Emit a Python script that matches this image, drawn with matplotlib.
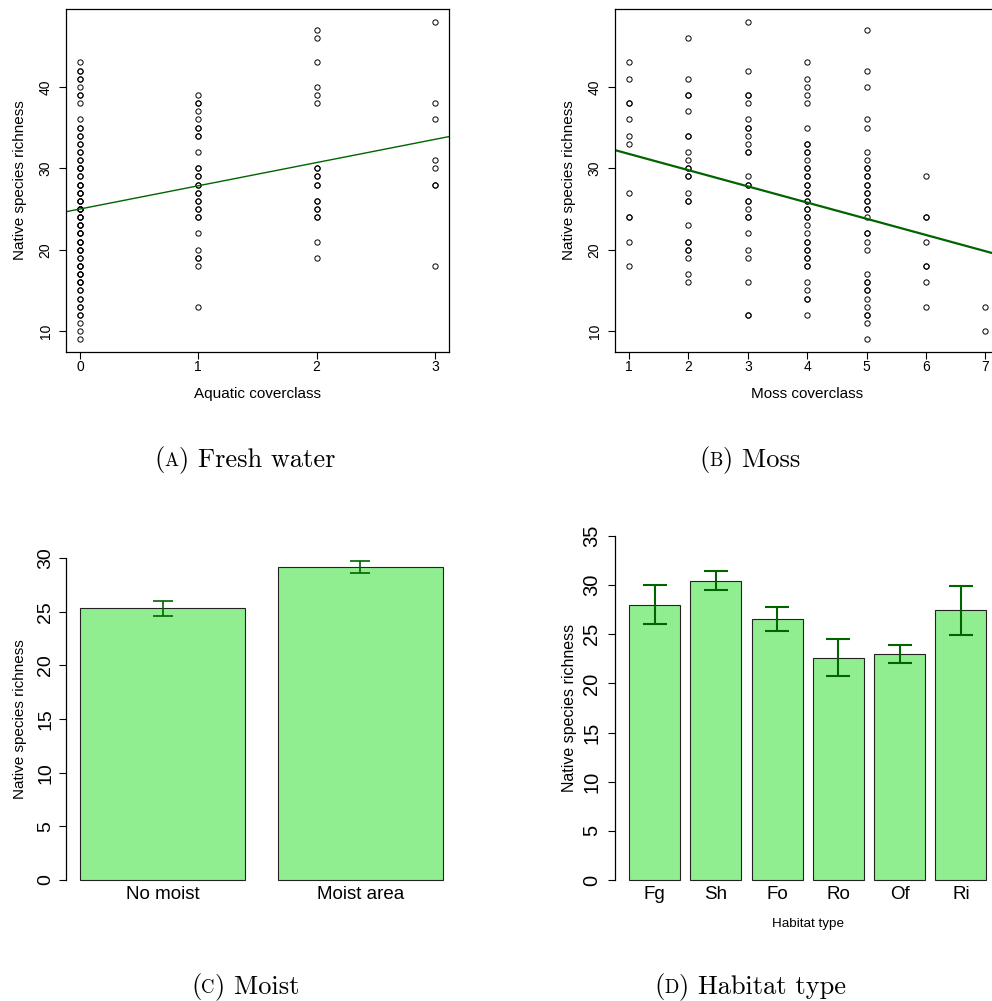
import matplotlib
matplotlib.use("Agg")
import matplotlib.pyplot as plt
import matplotlib.transforms as mtrans
import numpy as np

plt.rcParams["font.family"] = ["Liberation Sans", "DejaVu Sans"]

W, H = 992, 1001
GREEN = "#006400"
BAR = "#90EE90"
SERIF = ["cmr10", "DejaVu Serif"]

# (a) native species richness per plot, by aquatic coverclass (repeats = overplotted points)
aquatic_class = [0, 1, 2, 3]
aquatic_0 = [9, 10, 11, 12, 12, 13, 13, 14, 14, 15, 15, 16, 16, 16, 17, 17, 17,
             18, 18, 18, 19, 19, 20, 20, 20, 21, 21, 21, 22, 22, 22, 23, 23, 23,
             24, 24, 24, 25, 25, 25, 25, 26, 26, 26, 27, 27, 27, 28, 28, 28,
             29, 29, 30, 30, 30, 31, 31, 32, 32, 33, 33, 34, 34, 35, 35, 36,
             38, 39, 39, 40, 41, 41, 42, 42, 43]
aquatic_1 = [13, 18, 19, 19, 20, 22, 24, 24, 25, 25, 26, 26, 27, 27, 28, 28,
             29, 29, 30, 30, 32, 34, 34, 35, 35, 36, 37, 38, 38, 39]
aquatic_2 = [19, 21, 24, 24, 25, 25, 26, 26, 28, 28, 29, 29, 30, 30,
             38, 39, 40, 43, 46, 47]
aquatic_3 = [18, 28, 28, 30, 31, 36, 38, 48]
aquatic_fit = [25.0, 2.85]  # intercept, slope

# (b) by moss coverclass
moss_class = [1, 2, 3, 4, 5, 6, 7]
moss_1 = [18, 21, 24, 24, 27, 33, 34, 36, 38, 38, 41, 43]
moss_2 = [16, 17, 19, 20, 20, 21, 21, 23, 26, 26, 27, 29, 29, 30, 30, 31,
          32, 34, 34, 37, 39, 39, 41, 46]
moss_3 = [12, 12, 16, 19, 20, 22, 24, 24, 25, 26, 26, 28, 28, 29, 32, 32,
          33, 34, 35, 35, 36, 38, 39, 39, 42, 48]
moss_4 = [12, 14, 14, 15, 16, 18, 18, 19, 19, 20, 20, 21, 21, 22, 23, 24,
          24, 25, 25, 26, 26, 27, 27, 28, 28, 29, 29, 30, 30, 31, 32, 32,
          33, 33, 35, 38, 39, 40, 41, 43]
moss_5 = [9, 11, 12, 12, 13, 14, 15, 15, 16, 16, 17, 20, 21, 22, 22, 24, 25,
          25, 26, 26, 27, 27, 28, 28, 29, 29, 30, 30, 31, 32, 35, 36, 40, 42, 47]
moss_6 = [13, 16, 18, 18, 21, 24, 24, 29]
moss_7 = [10, 13]
moss_fit = [33.75, -1.99]

# (c) moist area
moist_labels = ["No moist", "Moist area"]
moist_mean = [25.3, 29.15]
moist_se = [0.68, 0.58]

# (d) habitat type
habitat_labels = ["Fg", "Sh", "Fo", "Ro", "Of", "Ri"]
habitat_mean = [28.03, 30.45, 26.57, 22.63, 22.97, 27.46]
habitat_se = [1.95, 0.98, 1.2, 1.87, 0.94, 2.5]


def box(l, t, r, b):
    return [l / W, 1 - b / H, (r - l) / W, (b - t) / H]


def rotate_yticks(ax, size, pad):
    ax.tick_params(axis="y", labelrotation=90, labelsize=size, pad=pad)
    plt.setp(ax.get_yticklabels(), va="center")


def place_labels(ax, fig, ylab_x, xlab_top=None):
    ax.yaxis.set_label_coords(
        ylab_x / W, 0.5, transform=mtrans.blended_transform_factory(fig.transFigure, ax.transAxes))
    if xlab_top is not None:
        ax.xaxis.set_label_coords(
            0.5, 1 - xlab_top / H, transform=mtrans.blended_transform_factory(ax.transAxes, fig.transFigure))


def scatter_panel(ax, classes, cols, fit, lw):
    for x, ys in zip(classes, cols):
        ax.plot(np.full(len(ys), x), ys, ls="none", marker="o", ms=3.8,
                mfc="none", mec="black", mew=0.7)
    xs = np.array(ax.get_xlim())
    ax.plot(xs, fit[0] + fit[1] * xs, color=GREEN, lw=lw)
    ax.set_yticks([10, 20, 30, 40])
    ax.tick_params(length=5, width=0.8, labelsize=10)
    ax.tick_params(axis="x", pad=1)
    rotate_yticks(ax, 10, 4.5)
    for s in ax.spines.values():
        s.set_linewidth(0.9)


def bar_panel(ax, labels, means, ses, cap, elw, xsize, ysize, ypad):
    pos = 0.7 + 1.2 * np.arange(len(means))
    ax.bar(pos, means, width=1.0, color=BAR, edgecolor="#222222", linewidth=0.8, clip_on=False)
    ax.errorbar(pos, means, yerr=ses, fmt="none", ecolor=GREEN, elinewidth=elw,
                capsize=cap, capthick=elw)
    ax.set_xticks(pos, labels)
    ax.tick_params(axis="x", length=0, labelsize=xsize, pad=4)
    ax.tick_params(axis="y", length=5, width=0.8)
    rotate_yticks(ax, ysize, ypad)
    for k in ["top", "right", "bottom"]:
        ax.spines[k].set_visible(False)
    ax.spines["left"].set_linewidth(0.9)


def caption(fig, cx, base_y, letter, rest):
    r = fig.canvas.get_renderer()
    pieces = [("(", 19), (letter, 13.5), (") " + rest, 19)]
    arts = [fig.text(0, 0, s, fontsize=f, family=SERIF, ha="left", va="baseline")
            for s, f in pieces]
    widths = [a.get_window_extent(r).width for a in arts]
    x = cx - sum(widths) / 2
    for a, w in zip(arts, widths):
        a.set_position((x / W, 1 - base_y / H))
        x += w


fig = plt.figure(figsize=(W / 100, H / 100), dpi=100)

axA = fig.add_axes(box(65.7, 9, 449, 352))
axA.set_xlim(-0.12, 3.12)
axA.set_ylim(7.44, 49.56)
scatter_panel(axA, aquatic_class, [aquatic_0, aquatic_1, aquatic_2, aquatic_3], aquatic_fit, 1.0)
axA.set_xticks(aquatic_class)
axA.set_xlabel("Aquatic coverclass", fontsize=11)
axA.set_ylabel("Native species richness", fontsize=11)
place_labels(axA, fig, 27, 387)

axB = fig.add_axes(box(614.8, 9, 999.6, 352))
axB.set_xlim(0.76, 7.24)
axB.set_ylim(7.44, 49.56)
scatter_panel(axB, moss_class, [moss_1, moss_2, moss_3, moss_4, moss_5, moss_6, moss_7], moss_fit, 1.6)
axB.set_xticks(moss_class)
axB.set_xlabel("Moss coverclass", fontsize=11)
axB.set_ylabel("Native species richness", fontsize=11)
place_labels(axB, fig, 576, 387)

axC = fig.add_axes(box(65.5, 558, 457.5, 880))
axC.set_xlim(0.112, 2.488)
axC.set_ylim(0, 30)
bar_panel(axC, moist_labels, moist_mean, moist_se, 7, 1.2, 13.5, 14, 3.2)
axC.set_ylabel("Native species richness", fontsize=11)
place_labels(axC, fig, 27)

axD = fig.add_axes(box(615, 536, 1000.6, 880))
axD.set_xlim(-0.08, 7.48)
axD.set_ylim(0, 35)
bar_panel(axD, habitat_labels, habitat_mean, habitat_se, 8.5, 1.5, 13.5, 14.5, 5)
axD.set_xlabel("Habitat type", fontsize=9.7)
axD.set_ylabel("Native species richness", fontsize=11.5)
place_labels(axD, fig, 577, 918)

caption(fig, 245, 466, "A", "Fresh water")
caption(fig, 750, 466, "B", "Moss")
caption(fig, 245, 993, "C", "Moist")
caption(fig, 750, 993, "D", "Habitat type")

fig.savefig("out.png", dpi=100)
